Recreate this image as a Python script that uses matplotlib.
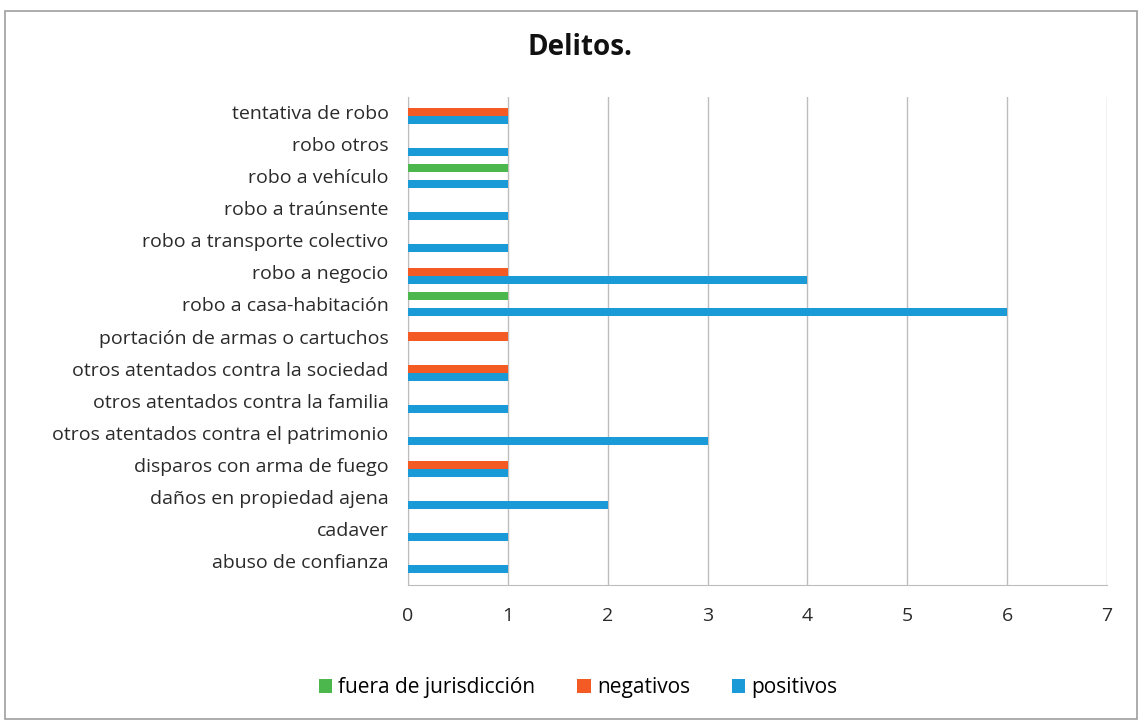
import numpy as np
import matplotlib.pyplot as plt
from matplotlib.patches import Rectangle

categorias = [
    "abuso de confianza",
    "cadaver",
    "daños en propiedad ajena",
    "disparos con arma de fuego",
    "otros atentados contra el patrimonio",
    "otros atentados contra la familia",
    "otros atentados contra la sociedad",
    "portación de armas o cartuchos",
    "robo a casa-habitación",
    "robo a negocio",
    "robo a transporte colectivo",
    "robo a traúnsente",
    "robo a vehículo",
    "robo otros",
    "tentativa de robo",
]
positivos = [1, 1, 2, 1, 3, 1, 1, 0, 6, 4, 1, 1, 1, 1, 1]
negativos = [0, 0, 0, 1, 0, 0, 1, 1, 0, 1, 0, 0, 0, 0, 1]
fuera = [0, 0, 0, 0, 0, 0, 0, 0, 1, 0, 0, 0, 1, 0, 0]

plt.rcParams['font.family'] = ['Open Sans', 'DejaVu Sans']

fig = plt.figure(figsize=(11.38, 7.28), dpi=100)
ax = fig.add_axes([0.3585, 0.1964, 0.6143, 0.6704])

y = np.arange(len(categorias))
h = 0.25
ax.barh(y - h, positivos, height=h, color='#1b9ad8', label='positivos', zorder=3)
ax.barh(y, negativos, height=h, color='#f45b24', label='negativos', zorder=3)
ax.barh(y + h, fuera, height=h, color='#4bb74c', label='fuera de jurisdicción', zorder=3)

ax.set_xlim(0, 7)
ax.set_ylim(-0.75, 14.47)
ax.set_yticks(y)
ax.set_yticklabels(categorias, fontsize=14, color='#2a2a2a')
ax.set_xticks(range(8))
ax.tick_params(axis='x', labelsize=14, colors='#2a2a2a', length=0, pad=16)
ax.tick_params(axis='y', length=0, pad=14)
ax.grid(axis='x', color='#bdbdbd', linewidth=1, zorder=0)

for s in ['top', 'right']:
    ax.spines[s].set_visible(False)
for s in ['left', 'bottom']:
    ax.spines[s].set_color('#bdbdbd')

fig.text(0.51, 0.935, "Delitos.", ha='center', va='center', fontsize=20,
         fontweight='bold', color='#111111')

handles, labels = ax.get_legend_handles_labels()
fig.legend(handles[::-1], labels[::-1], loc='center', bbox_to_anchor=(0.508, 0.055),
           ncol=3, frameon=False, fontsize=15, handlelength=0.65, handleheight=0.65,
           handletextpad=0.3, columnspacing=2.0)

fig.patches.append(Rectangle((0.004, 0.013), 0.995, 0.972, transform=fig.transFigure,
                             fill=False, edgecolor='#9e9e9e', linewidth=1.2))

fig.savefig('out.png', dpi=100)
